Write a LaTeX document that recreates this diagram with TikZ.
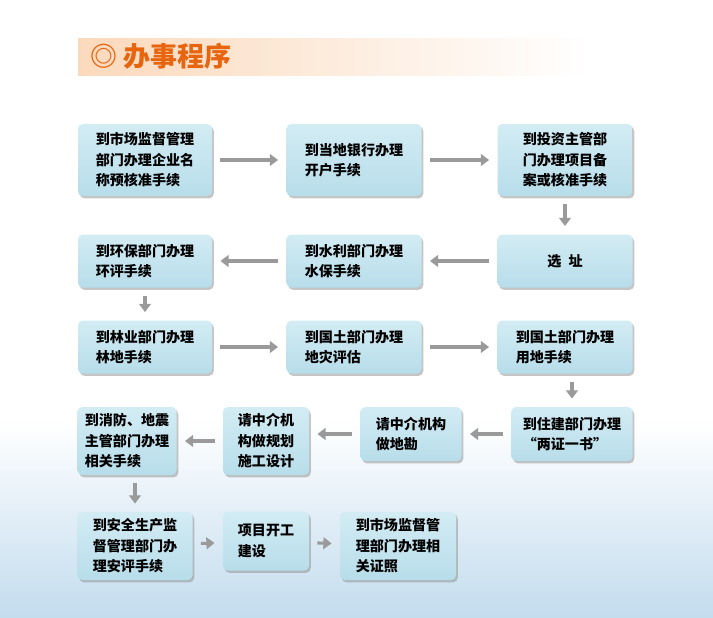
\documentclass[tikz,border=0pt]{standalone}
\usepackage{fontspec}
\setmainfont{Noto Sans CJK SC}
\usetikzlibrary{arrows.meta,shadows}
\definecolor{BoxTop}{HTML}{D3ECF4}
\definecolor{BoxBot}{HTML}{B7DDEA}
\definecolor{ArrowGray}{HTML}{9A9A9A}
\definecolor{TitleOrange}{HTML}{E8650F}
\definecolor{TitleBar}{HTML}{FBD9BC}
\definecolor{Sky}{HTML}{C3DCEE}
\tikzset{
  box/.style 2 args={draw=none, rounded corners=4pt, top color=BoxTop, bottom color=BoxBot,
    drop shadow={shadow xshift=1.5pt, shadow yshift=-2pt, fill=black!45},
    minimum width={#1*0.03cm}, minimum height={#2*0.03cm}, inner xsep=0.1cm,
    align=left, font=\bfseries\fontsize{12}{17.5}\selectfont},
  flow/.style={draw=ArrowGray, line width=2.6pt, -{Triangle[length=7pt,width=10pt]}, shorten >=7pt, shorten <=7pt}
}
\begin{document}
\begin{tikzpicture}[x=0.03cm, y=-0.03cm]
		\useasboundingbox (0,0) rectangle (713,617);
		\shade[top color=white, bottom color=Sky] (0,420) rectangle (713,617);
		
		% title
		\shade[left color=TitleBar, right color=white] (78,38) rectangle (590,75);
		\node[anchor=west, text=TitleOrange, font=\bfseries\fontsize{23}{23}\selectfont] (title) at (86,56) {◎ 办事程序};
		
		\node[box={134}{72}] (a1) at (145,160) {到市场监督管理\\部门办理企业名\\称预核准手续};
		\node[box={135}{72}] (a2) at (354,160) {到当地银行办理\\开户手续};
		\node[box={135}{72}] (a3) at (565,160) {到投资主管部\\门办理项目备\\案或核准手续};
		
		\node[box={135}{53}, align=center] (b3) at (565,261) {选\enspace 址};
		\node[box={135}{53}] (b2) at (354,261) {到水利部门办理\\水保手续};
		\node[box={134}{53}] (b1) at (145,261) {到环保部门办理\\环评手续};
		
		\node[box={134}{53}] (c1) at (145,347) {到林业部门办理\\林地手续};
		\node[box={135}{53}] (c2) at (354,347) {到国土部门办理\\地灾评估};
		\node[box={135}{53}] (c3) at (565,347) {到国土部门办理\\用地手续};
		
		\node[box={121}{54}] (d4) at (572,434) {到住建部门办理\\“两证一书”};
		\node[box={101}{54}] (d3) at (411,434) {请中介机构\\做地勘};
		\node[box={86}{68}] (d2) at (266,441) {请中介机\\构做规划\\施工设计};
		\node[box={99}{68}] (d1) at (127,441) {到消防、地震\\主管部门办理\\相关手续};
		
		\node[box={115}{68}] (e1) at (135,546) {到安全生产监\\督管理部门办\\理安评手续};
		\node[box={86}{59}] (e2) at (266,541) {项目开工\\建设};
		\node[box={116}{68}] (e3) at (398,546) {到市场监督管\\理部门办理相\\关证照};
		
		\draw[flow] (a1) -- (a2);
		\draw[flow] (a2) -- (a3);
		\draw[flow] (a3) -- (b3);
		\draw[flow] (b3) -- (b2);
		\draw[flow] (b2) -- (b1);
		\draw[flow] (b1) -- (c1);
		\draw[flow] (c1) -- (c2);
		\draw[flow] (c2) -- (c3);
		\draw[flow] (c3.south -| d4) -- (d4);
		\draw[flow] (d4) -- (d3);
		\draw[flow] (d3) -- (d3 -| d2.east);
		\draw[flow] (d2) -- (d1);
		\draw[flow] (d1.south -| e1) -- (e1);
		\draw[flow] (e1) -- (e2);
		\draw[flow] (e2) -- (e3);
	\end{tikzpicture}
\end{document}
